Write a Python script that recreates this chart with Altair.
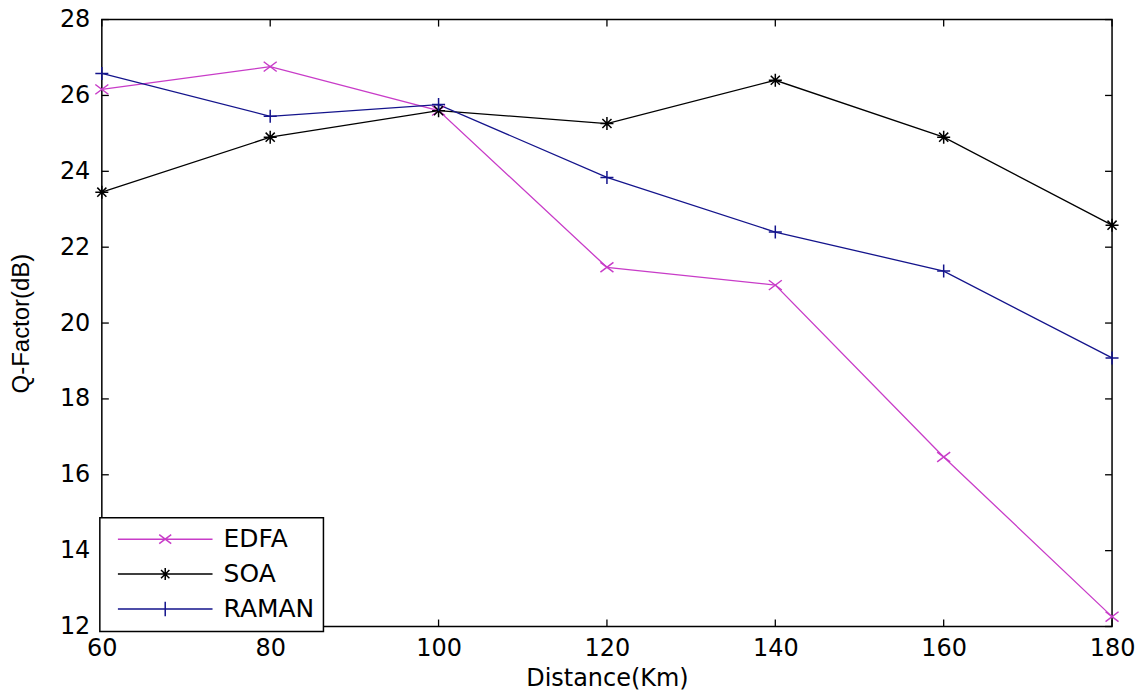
import altair as alt
import pandas as pd

distance = [60, 80, 100, 120, 140, 160, 180]
edfa = [26.16, 26.76, 25.6, 21.47, 21.0, 16.47, 12.26]
soa = [23.45, 24.9, 25.6, 25.26, 26.4, 24.9, 22.58]
raman = [26.58, 25.45, 25.76, 23.84, 22.4, 21.37, 19.08]
series_names = ["EDFA", "SOA", "RAMAN"]
series_colors = ["#c83cc8", "#000000", "#14148c"]
x_ticks = [60, 80, 100, 120, 140, 160, 180]
y_ticks = [12, 14, 16, 18, 20, 22, 24, 26, 28]

W, H = 1012, 608
FONT = "DejaVu Sans"

rows = []
for name, vals in zip(series_names, [edfa, soa, raman]):
    for d, v in zip(distance, vals):
        rows.append({"Distance": d, "Q": v, "Series": name})
df = pd.DataFrame(rows)

marker_paths = [
    "M-1,-0.75L1,0.75M-1,0.75L1,-0.75",
    "M-1,0H1M0,-1V1M-0.7,-0.7L0.7,0.7M-0.7,0.7L0.7,-0.7",
    "M-1,0H1M0,-1V1",
]
# legend symbols: 12px box, line extends +-L units
L = 7.9
legend_paths = [
    f"M-{L},0H{L}M-1,-0.75L1,0.75M-1,0.75L1,-0.75",
    f"M-{L},0H{L}M0,-1V1M-0.7,-0.7L0.7,0.7M-0.7,0.7L0.7,-0.7",
    f"M-{L},0H{L}M0,-1.2V1.2",
]

xscale = alt.Scale(domain=[60, 180], nice=False, zero=False)
yscale = alt.Scale(domain=[12, 28], nice=False, zero=False)
cscale = alt.Scale(domain=series_names, range=series_colors)

x_axis = alt.Axis(values=x_ticks, title="Distance(Km)", ticks=False, domain=False,
                  grid=False, labelPadding=10, titlePadding=6, format="d",
                  labelFlush=False)
y_axis = alt.Axis(values=y_ticks, title="Q-Factor(dB)", ticks=False, domain=False,
                  grid=False, labelPadding=12, titlePadding=26, format="d",
                  titleFont="Liberation Sans", labelFlush=False)

X = alt.X("Distance:Q", scale=xscale, axis=x_axis)
Y = alt.Y("Q:Q", scale=yscale, axis=y_axis)

base = alt.Chart(df)

line_layers = []
point_layers = []
for name, color, path in zip(series_names, series_colors, marker_paths):
    sub = base.transform_filter(alt.datum.Series == name)
    line_layers.append(
        sub.mark_line(strokeWidth=1.3, color=color).encode(x=X, y=Y)
    )
    point_layers.append(
        sub.mark_point(filled=False, size=170, strokeWidth=1.5, opacity=1,
                       shape=path, color=color).encode(x=X, y=Y)
    )

legend_layer = base.mark_point(filled=False, opacity=0).encode(
    x=X, y=Y,
    color=alt.Color("Series:N", scale=cscale, legend=alt.Legend(title=None)),
    shape=alt.Shape("Series:N", scale=alt.Scale(domain=series_names, range=legend_paths),
                    legend=alt.Legend(title=None)),
)

xt = pd.DataFrame({"Distance": x_ticks})
yt = pd.DataFrame({"Q": y_ticks})
tick_len = 7
rule_style = dict(color="black", strokeWidth=1.3)
bottom_ticks = alt.Chart(xt).mark_rule(**rule_style).encode(
    x=X, y=alt.value(H), y2=alt.value(H - tick_len))
top_ticks = alt.Chart(xt).mark_rule(**rule_style).encode(
    x=X, y=alt.value(0), y2=alt.value(tick_len))
left_ticks = alt.Chart(yt).mark_rule(**rule_style).encode(
    y=Y, x=alt.value(0), x2=alt.value(tick_len))
right_ticks = alt.Chart(yt).mark_rule(**rule_style).encode(
    y=Y, x=alt.value(W), x2=alt.value(W - tick_len))

chart = alt.layer(
    *line_layers, bottom_ticks, top_ticks, left_ticks, right_ticks, *point_layers, legend_layer
).properties(
    width=W, height=H,
    autosize=alt.AutoSizeParams(type="none"),
    padding={"left": 94, "top": 11, "right": 25, "bottom": 67},
    background="white",
).configure_view(
    stroke="black", strokeWidth=1.5
).configure_axis(
    labelFont=FONT, labelFontSize=24, labelColor="black",
    titleFont=FONT, titleFontSize=24, titleColor="black", titleFontWeight="normal",
).configure_legend(
    orient="none", legendX=-2, legendY=499,
    strokeColor="black", strokeWidth=1.5, fillColor="white", padding=9,
    symbolSize=144, symbolStrokeWidth=1.5, symbolOpacity=1,
    symbolOffset=44, labelOffset=46,
    labelFont=FONT, labelFontSize=25, labelColor="black",
    rowPadding=9,
)

chart.save("out.html", embed_options={"renderer": "svg", "actions": False})
